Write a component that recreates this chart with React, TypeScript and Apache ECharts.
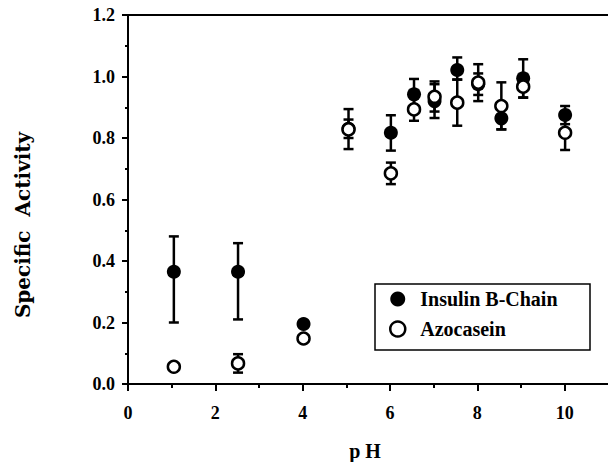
import React, { useEffect, useRef } from "react";
import * as echarts from "echarts";

const phValues = [1.05, 2.52, 4.02, 5.05, 6.02, 6.55, 7.02, 7.54, 8.02, 8.55, 9.05, 10.01];
const insulinActivity = [0.365, 0.365, 0.195, 0.83, 0.817, 0.942, 0.92, 1.021, 0.975, 0.864, 0.994, 0.875];
const insulinLow = [0.2, 0.21, 0.195, 0.764, 0.759, 0.892, 0.865, 0.99, 0.94, 0.828, 0.931, 0.845];
const insulinHigh = [0.48, 0.458, 0.195, 0.894, 0.874, 0.992, 0.975, 1.062, 1.01, 0.9, 1.056, 0.904];
const azoActivity = [0.056, 0.067, 0.148, 0.828, 0.685, 0.893, 0.934, 0.915, 0.98, 0.904, 0.967, 0.817];
const azoLow = [0.056, 0.037, 0.138, 0.8, 0.65, 0.856, 0.886, 0.84, 0.92, 0.828, 0.932, 0.761];
const azoHigh = [0.056, 0.097, 0.158, 0.86, 0.72, 0.93, 0.984, 0.99, 1.04, 0.981, 1.002, 0.873];
const xTickLabels = ["0", "2", "4", "6", "8", "10"];

const FONT = "'Liberation Serif', 'DejaVu Serif', serif";

function errorData(lows: number[], highs: number[]) {
  return phValues
    .map((x, i) => [x, lows[i], highs[i]])
    .filter((d) => d[2] - d[1] > 0.001);
}

function renderErr(params: any, api: any) {
  const x = api.value(0);
  const lo = api.coord([x, api.value(1)]);
  const hi = api.coord([x, api.value(2)]);
  const hw = 5;
  const style = { stroke: "#000", lineWidth: 2.5 };
  return {
    type: "group",
    children: [
      { type: "line", shape: { x1: lo[0], y1: lo[1], x2: hi[0], y2: hi[1] }, style },
      { type: "line", shape: { x1: lo[0] - hw, y1: lo[1], x2: lo[0] + hw, y2: lo[1] }, style },
      { type: "line", shape: { x1: hi[0] - hw, y1: hi[1], x2: hi[0] + hw, y2: hi[1] }, style },
    ],
  };
}

export default function App() {
  const ref = useRef<HTMLDivElement>(null);
  useEffect(() => {
    if (!ref.current) return;
    const chart = echarts.init(ref.current, null, { renderer: "svg" });
    const labelStyle = { fontFamily: FONT, fontWeight: "bold" as const, fontSize: 18, color: "#000" };
    chart.setOption({
      animation: false,
      backgroundColor: "#fff",
      grid: { left: 128, right: -44, top: 15, bottom: 78, outerBoundsMode: "none", containLabel: false },
      xAxis: [
        {
          type: "value",
          min: 0,
          max: 12,
          interval: 2,
          axisLine: { show: true, lineStyle: { color: "#000", width: 2 } },
          axisTick: { show: true, length: 7, lineStyle: { color: "#000", width: 2 } },
          minorTick: { show: true, splitNumber: 2, length: 4, lineStyle: { color: "#000", width: 2 } },
          axisLabel: {
            ...labelStyle,
            margin: 20,
            formatter: (v: number) => (xTickLabels.indexOf(String(v)) >= 0 ? String(v) : ""),
          },
          splitLine: { show: false },
        },
        {
          type: "value",
          position: "top",
          min: 0,
          max: 12,
          axisLine: { show: true, onZero: false, lineStyle: { color: "#000", width: 2 } },
          axisTick: { show: false },
          axisLabel: { show: false },
          splitLine: { show: false },
        },
      ],
      yAxis: {
        type: "value",
        min: 0,
        max: 1.2,
        interval: 0.2,
        axisLine: { show: true, lineStyle: { color: "#000", width: 2 } },
        axisTick: { show: true, length: 6, lineStyle: { color: "#000", width: 2 } },
        minorTick: { show: true, splitNumber: 2, length: 3, lineStyle: { color: "#000", width: 2 } },
        axisLabel: { ...labelStyle, margin: 13, formatter: (v: number) => v.toFixed(1) },
        splitLine: { show: false },
      },
      legend: {
        orient: "vertical",
        left: 389,
        top: 289,
        padding: 0,
        itemWidth: 15,
        itemHeight: 15,
        itemGap: 10,
        icon: "circle",
        textStyle: { ...labelStyle, fontSize: 20, padding: [0, 0, 0, 10] },
        data: [
          { name: "Insulin B-Chain", itemStyle: { color: "#000", borderColor: "#000", borderWidth: 0 } },
          { name: "Azocasein", itemStyle: { color: "#fff", borderColor: "#000", borderWidth: 2.5 } },
        ],
      },
      graphic: [
        {
          type: "rect",
          shape: { x: 375, y: 284, width: 215, height: 66 },
          style: { fill: "none", stroke: "#000", lineWidth: 1.5 },
          z: 1,
        },
        {
          type: "text",
          x: 23,
          y: 225,
          rotation: Math.PI / 2,
          style: {
            text: "Specific  Activity",
            font: "bold 20px 'DejaVu Serif', serif",
            fill: "#000",
            align: "center",
            verticalAlign: "middle",
          },
        },
        {
          type: "text",
          x: 365,
          y: 451,
          style: {
            text: "p H",
            font: `bold 20px ${FONT}`,
            fill: "#000",
            align: "center",
            verticalAlign: "middle",
          },
        },
      ],
      series: [
        {
          type: "custom",
          name: "insulinErr",
          renderItem: renderErr,
          data: errorData(insulinLow, insulinHigh),
          z: 2,
          silent: true,
        },
        {
          type: "custom",
          name: "azoErr",
          renderItem: renderErr,
          data: errorData(azoLow, azoHigh),
          z: 2,
          silent: true,
        },
        {
          type: "scatter",
          name: "Insulin B-Chain",
          symbol: "circle",
          symbolSize: 14,
          itemStyle: { color: "#000", opacity: 1 },
          data: phValues.map((x, i) => [x, insulinActivity[i]]),
          z: 3,
        },
        {
          type: "scatter",
          name: "Azocasein",
          symbol: "circle",
          symbolSize: 12,
          itemStyle: { color: "#fff", borderColor: "#000", borderWidth: 2.5, opacity: 1 },
          data: phValues.map((x, i) => [x, azoActivity[i]]),
          z: 4,
        },
      ],
    });
    return () => chart.dispose();
  }, []);
  return (
    <div
      ref={ref}
      style={{ position: "fixed", left: 0, top: 0, width: 608, height: 462, background: "#fff" }}
    />
  );
}
